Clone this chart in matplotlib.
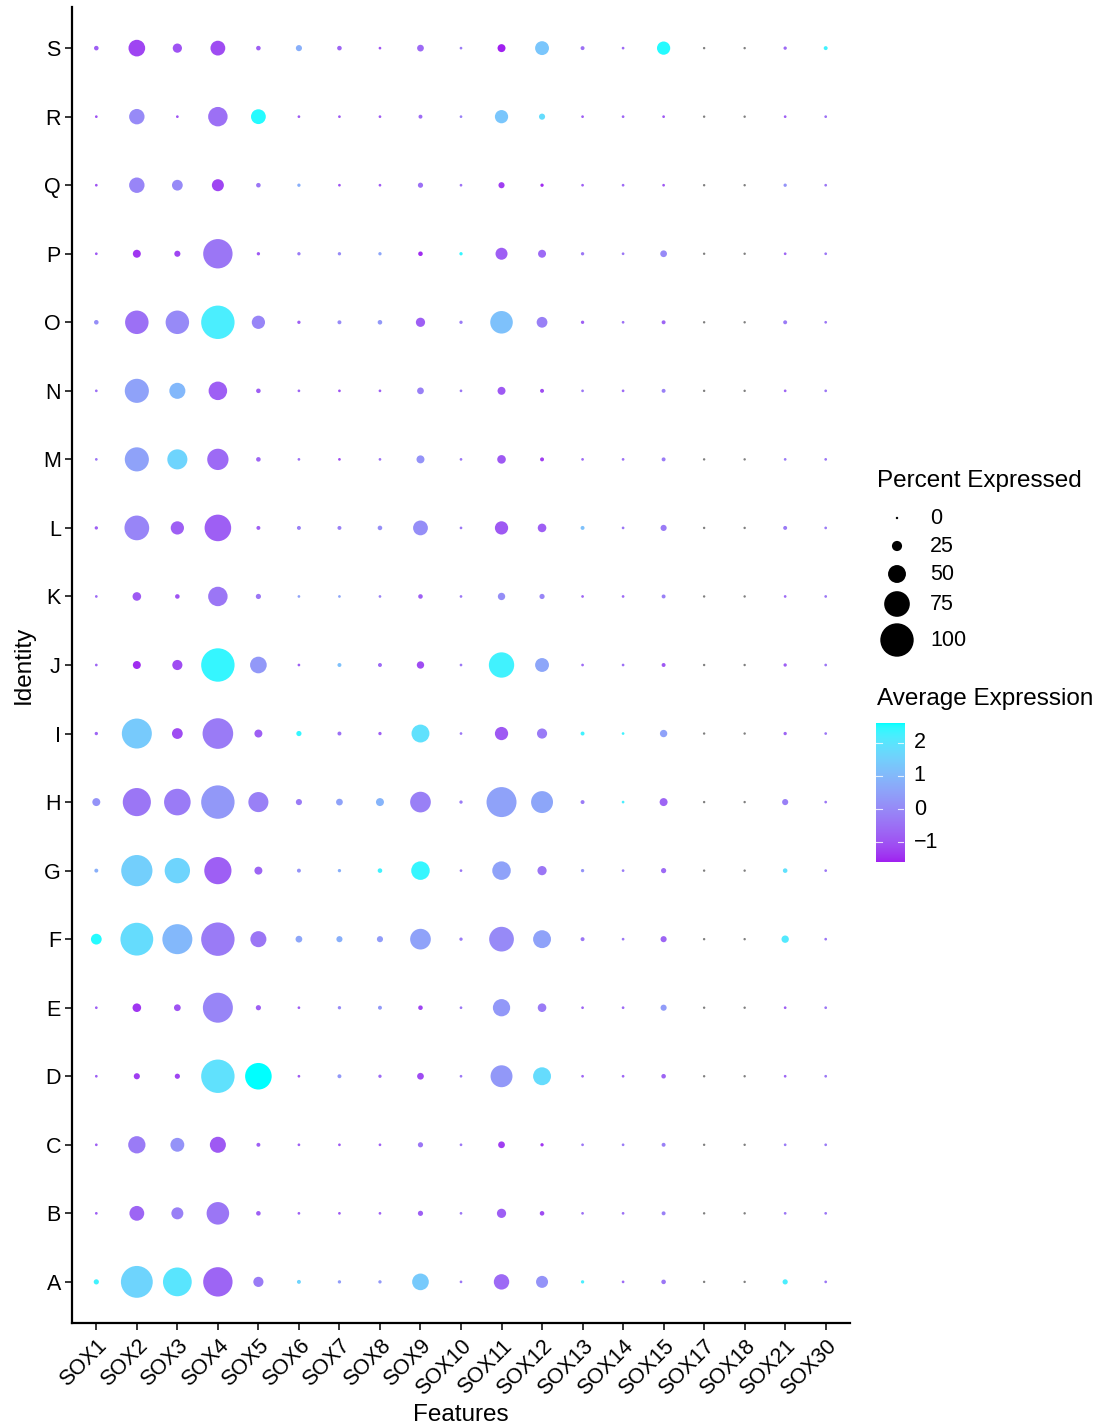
import numpy as np
import matplotlib
matplotlib.use("Agg")
import matplotlib.pyplot as plt
from matplotlib.colors import ListedColormap, Normalize

plt.rcParams["font.family"] = ["Liberation Sans", "DejaVu Sans"]

genes = ["SOX1", "SOX2", "SOX3", "SOX4", "SOX5", "SOX6", "SOX7", "SOX8", "SOX9",
         "SOX10", "SOX11", "SOX12", "SOX13", "SOX14", "SOX15", "SOX17", "SOX18",
         "SOX21", "SOX30"]
identities = list("ABCDEFGHIJKLMNOPQRS")

nan = np.nan

# percent of cells expressing each gene (rows A..S)
pct_A = [9, 95, 85, 87, 25, 5, 3, 3, 46, 1, 42, 31, 3, 1, 7, 0, 0, 9, 1]
pct_B = [1, 40, 31, 65, 7, 1, 1, 1, 9, 1, 22, 7, 1, 1, 5, 0, 0, 1, 1]
pct_C = [1, 48, 37, 44, 5, 1, 1, 1, 9, 1, 14, 3, 1, 1, 5, 0, 0, 1, 1]
pct_D = [1, 12, 9, 100, 78, 1, 5, 3, 14, 1, 63, 50, 1, 1, 7, 0, 0, 1, 1]
pct_E = [1, 20, 14, 89, 9, 1, 3, 5, 7, 1, 48, 20, 1, 1, 12, 0, 0, 1, 1]
pct_F = [27, 98, 89, 100, 44, 14, 12, 12, 59, 3, 72, 50, 5, 1, 12, 0, 0, 16, 1]
pct_G = [5, 93, 74, 80, 18, 5, 3, 7, 52, 1, 52, 22, 3, 1, 9, 0, 0, 7, 1]
pct_H = [18, 83, 78, 100, 57, 12, 14, 18, 59, 3, 89, 63, 5, 1, 18, 0, 0, 12, 1]
pct_I = [3, 89, 27, 91, 18, 9, 5, 3, 50, 1, 35, 25, 5, 1, 16, 0, 0, 3, 1]
pct_J = [1, 18, 25, 100, 46, 1, 5, 5, 16, 1, 74, 37, 1, 1, 5, 0, 0, 3, 1]
pct_K = [1, 20, 7, 55, 9, 1, 1, 1, 7, 1, 16, 9, 1, 1, 5, 0, 0, 1, 1]
pct_L = [3, 72, 35, 78, 5, 5, 5, 7, 40, 1, 35, 20, 5, 1, 12, 0, 0, 5, 1]
pct_M = [1, 70, 57, 61, 7, 1, 1, 1, 18, 1, 20, 5, 1, 1, 5, 0, 0, 1, 1]
pct_N = [1, 70, 44, 52, 7, 1, 1, 1, 14, 1, 18, 5, 1, 1, 5, 0, 0, 1, 1]
pct_O = [7, 68, 68, 100, 35, 3, 5, 7, 22, 3, 65, 27, 3, 1, 5, 0, 0, 5, 1]
pct_P = [1, 18, 12, 87, 3, 3, 3, 3, 7, 3, 31, 18, 3, 1, 14, 0, 0, 1, 1]
pct_Q = [1, 42, 27, 31, 7, 3, 1, 1, 9, 1, 12, 3, 1, 1, 1, 0, 0, 3, 1]
pct_R = [1, 42, 1, 55, 40, 1, 1, 1, 5, 1, 35, 12, 1, 1, 1, 0, 0, 1, 1]
pct_S = [7, 46, 22, 40, 7, 12, 7, 1, 14, 1, 18, 37, 5, 1, 35, 0, 0, 3, 5]

# scaled average expression (NaN where a gene is not detected)
avg_A = [2.3, 1.6, 2.0, -0.7, -0.3, 1.6, 0.4, 0.3, 1.4, -0.4, -0.6, 0.2, 2.2, -0.6, -0.4, nan, nan, 2.2, -0.4]
avg_B = [-0.8, -0.7, -0.2, -0.4, -0.8, -0.8, -0.9, -0.8, -0.8, -0.4, -0.8, -1.1, -0.5, -0.5, -0.2, nan, nan, -0.4, -0.4]
avg_C = [-0.8, -0.3, 0.2, -0.9, -0.8, -0.8, -0.9, -0.8, -0.4, -0.4, -1.3, -1.4, -0.4, -0.3, -0.2, nan, nan, -0.3, -0.3]
avg_D = [-0.8, -1.3, -1.2, 1.9, 2.6, -0.9, 0.3, -0.6, -1.1, -0.4, 0.3, 1.8, -0.7, -0.7, -0.7, nan, nan, -0.7, -0.4]
avg_E = [-0.8, -1.4, -1.0, -0.1, -0.8, -0.8, 0.0, 0.3, -1.2, -0.4, 0.3, -0.3, -0.7, -0.6, 0.4, nan, nan, -0.8, -0.4]
avg_F = [2.5, 1.8, 1.0, -0.3, -0.4, 0.6, 0.8, 0.4, 0.5, -0.3, 0.0, 0.5, -0.4, -0.4, -0.7, nan, nan, 2.1, -0.4]
avg_G = [0.8, 1.5, 1.6, -0.8, -0.7, 0.2, 0.8, 2.3, 2.4, -0.4, 0.5, -0.4, 0.2, -0.3, -0.6, nan, nan, 1.9, -0.4]
avg_H = [0.2, -0.4, -0.3, 0.3, -0.2, -0.3, 0.5, 0.9, -0.2, -0.3, 0.5, 0.6, -0.3, 2.2, -0.7, nan, nan, -0.2, -0.4]
avg_I = [-0.7, 1.4, -1.1, -0.3, -0.8, 2.4, -0.5, -0.8, 1.9, -0.4, -0.9, -0.3, 2.3, 2.3, 0.5, nan, nan, -0.7, -0.4]
avg_J = [-0.7, -1.5, -1.1, 2.4, 0.3, -0.8, 1.2, -0.6, -1.1, -0.4, 2.3, 0.6, -0.6, -0.5, -0.9, nan, nan, -0.8, -0.4]
avg_K = [-0.6, -0.9, -1.0, -0.4, -0.4, 0.5, 0.6, -0.2, -0.8, -0.4, 0.1, -0.1, -0.7, -0.6, -0.2, nan, nan, -0.6, -0.4]
avg_L = [-0.8, -0.1, -0.8, -0.8, -0.8, -0.2, -0.2, 0.1, 0.1, -0.4, -0.9, -0.8, 1.2, -0.4, -0.3, nan, nan, -0.3, -0.3]
avg_M = [-0.4, 0.5, 1.6, -0.6, -0.7, -0.5, -1.1, -0.5, 0.2, -0.4, -0.9, -1.3, -0.6, -0.5, -0.3, nan, nan, -0.3, -0.4]
avg_N = [-0.5, 0.5, 1.0, -0.8, -0.8, -0.7, -1.0, -0.8, -0.2, -0.4, -0.9, -1.1, -0.4, -0.6, -0.2, nan, nan, -0.7, -0.4]
avg_O = [0.1, -0.5, 0.0, 2.2, -0.1, -0.8, 0.0, 0.3, -0.8, -0.3, 1.2, -0.2, -0.8, -0.5, -0.7, nan, nan, -0.3, -0.4]
avg_P = [-0.9, -1.4, -1.2, -0.4, -0.9, -0.3, 0.0, 0.6, -1.5, 2.4, -0.8, -0.6, -0.4, -0.4, 0.0, nan, nan, -0.7, -0.4]
avg_Q = [-1.0, -0.1, 0.0, -1.2, -0.4, 0.8, -1.0, -0.9, -0.5, -0.5, -1.3, -1.5, -0.8, -0.6, -0.9, nan, nan, 0.2, -0.4]
avg_R = [-1.0, 0.0, -1.0, -0.5, 2.5, -0.9, -0.9, -0.9, -0.6, -0.2, 1.3, 1.8, -0.8, -0.7, -0.9, nan, nan, -0.8, -0.5]
avg_S = [-0.8, -1.2, -1.0, -1.1, -0.8, 0.8, -0.7, -1.0, -0.6, -0.3, -1.6, 1.3, -0.5, -0.6, 2.5, nan, nan, -0.6, 2.3]

pct_rows = [pct_A, pct_B, pct_C, pct_D, pct_E, pct_F, pct_G, pct_H, pct_I, pct_J,
            pct_K, pct_L, pct_M, pct_N, pct_O, pct_P, pct_Q, pct_R, pct_S]
avg_rows = [avg_A, avg_B, avg_C, avg_D, avg_E, avg_F, avg_G, avg_H, avg_I, avg_J,
            avg_K, avg_L, avg_M, avg_N, avg_O, avg_P, avg_Q, avg_R, avg_S]

size_breaks = [0, 25, 50, 75, 100]
color_ticks = [-1, 0, 1, 2]


# --- colour scale: purple -> cyan interpolated in CIE Lab ---
def srgb_to_lab(rgb):
    rgb = np.asarray(rgb, float)
    lin = np.where(rgb <= 0.04045, rgb / 12.92, ((rgb + 0.055) / 1.055) ** 2.4)
    M = np.array([[0.4124, 0.3576, 0.1805],
                  [0.2126, 0.7152, 0.0722],
                  [0.0193, 0.1192, 0.9505]])
    xyz = M @ lin
    white = np.array([0.95047, 1.0, 1.08883])
    t = xyz / white
    f = np.where(t > (6 / 29) ** 3, np.cbrt(t), t / (3 * (6 / 29) ** 2) + 4 / 29)
    return np.array([116 * f[1] - 16, 500 * (f[0] - f[1]), 200 * (f[1] - f[2])])


def lab_to_srgb(lab):
    L, a, b = lab
    fy = (L + 16) / 116
    fx = fy + a / 500
    fz = fy - b / 200
    d = 6 / 29
    finv = lambda f: np.where(f > d, f ** 3, 3 * d * d * (f - 4 / 29))
    white = np.array([0.95047, 1.0, 1.08883])
    xyz = np.array([finv(fx), finv(fy), finv(fz)]) * white
    Minv = np.array([[3.2406, -1.5372, -0.4986],
                     [-0.9689, 1.8758, 0.0415],
                     [0.0557, -0.2040, 1.0570]])
    lin = Minv @ xyz
    lin = np.clip(lin, 0, 1)
    rgb = np.where(lin <= 0.0031308, 12.92 * lin, 1.055 * lin ** (1 / 2.4) - 0.055)
    return np.clip(rgb, 0, 1)


low = np.array([0xA0, 0x20, 0xF0]) / 255
high = np.array([0x00, 0xFF, 0xFF]) / 255
lab_low, lab_high = srgb_to_lab(low), srgb_to_lab(high)
cmap = ListedColormap([lab_to_srgb(lab_low + (lab_high - lab_low) * t)
                       for t in np.linspace(0, 1, 256)])

# --- assemble long-form table ---
xs, ys, pcts, avgs = [], [], [], []
for yi, (prow, arow) in enumerate(zip(pct_rows, avg_rows)):
    for xi in range(len(genes)):
        xs.append(xi)
        ys.append(yi)
        pcts.append(prow[xi])
        avgs.append(arow[xi])
xs, ys = np.array(xs), np.array(ys)
pcts, avgs = np.array(pcts, float), np.array(avgs, float)

DPI = 100
PX2PT = 72 / DPI


def dot_area(p):
    # radius scales linearly with percent expressed
    d_px = 2.4 + 0.31 * np.asarray(p, float)
    return (d_px * PX2PT) ** 2


norm = Normalize(vmin=np.nanmin(avgs), vmax=np.nanmax(avgs))
colors = [cmap(norm(v)) if np.isfinite(v) else "#7F7F7F" for v in avgs]

W, H = 1109, 1428
fig = plt.figure(figsize=(W / DPI, H / DPI), dpi=DPI)
ax = fig.add_axes([72 / W, 1 - 1323 / H, (850 - 72) / W, (1323 - 7) / H])

ax.scatter(xs, ys, s=dot_area(pcts), c=colors, linewidths=0, zorder=3)

ax.set_xlim(-0.6, len(genes) - 0.4)
ax.set_ylim(-0.6, len(identities) - 0.4)
ax.set_xticks(range(len(genes)))
ax.set_xticklabels(genes, rotation=45, ha="right", va="top",
                   rotation_mode="anchor", fontsize=15.5)
ax.set_yticks(range(len(identities)))
ax.set_yticklabels(identities, fontsize=15.5)
for s in ["top", "right"]:
    ax.spines[s].set_visible(False)
for s in ["left", "bottom"]:
    ax.spines[s].set_linewidth(1.6)
ax.tick_params(axis="both", length=5, width=1.1, color="black", labelcolor="black")
ax.tick_params(axis="y", pad=3)
ax.tick_params(axis="x", pad=4)
ax.set_xlabel("Features", fontsize=17.5, labelpad=3)
ax.set_ylabel("Identity", fontsize=17.5, labelpad=6)

# --- size legend ---
fig.text(877 / W, 1 - 481 / H, "Percent Expressed", fontsize=17.5,
         ha="left", va="center")
lax = fig.add_axes([0, 0, 1, 1], facecolor="none")
lax.set_xlim(0, W)
lax.set_ylim(H, 0)
lax.axis("off")
key_y = [518, 546, 574, 604, 640]
lax.scatter([897] * len(size_breaks), key_y, s=dot_area(size_breaks),
            c="black", linewidths=0)
for b, y in zip(size_breaks, key_y):
    lax.text(930, y, str(b), fontsize=15.5, ha="left", va="center")

# --- colour legend ---
fig.text(877 / W, 1 - 699 / H, "Average Expression", fontsize=17.5,
         ha="left", va="center")
cax = fig.add_axes([876 / W, 1 - 862 / H, 28 / W, 139 / H])
grad = np.linspace(norm.vmin, norm.vmax, 256).reshape(-1, 1)
cax.imshow(grad, aspect="auto", cmap=cmap, norm=norm, origin="lower",
           extent=[0, 1, norm.vmin, norm.vmax])
cax.set_xlim(0, 1)
cax.set_ylim(norm.vmin, norm.vmax)
cax.set_xticks([])
cax.set_yticks([])
for s in cax.spines.values():
    s.set_visible(False)
for t in color_ticks:
    cax.plot([0, 0.2], [t, t], color="white", lw=0.8, alpha=0.8)
    cax.plot([0.8, 1], [t, t], color="white", lw=0.8, alpha=0.8)
    cax.text(1.35, t, "\u2212" + str(abs(t)) if t < 0 else str(t),
             fontsize=15.5, ha="left", va="center", transform=cax.transData,
             clip_on=False)

fig.savefig("out.png", dpi=DPI, facecolor="white")
